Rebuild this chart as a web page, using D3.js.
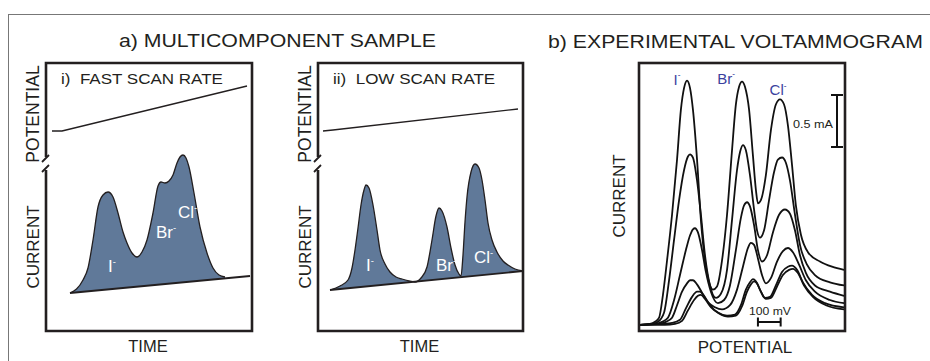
<!DOCTYPE html>
<meta charset="utf-8">
<title>Multicomponent sample voltammetry</title>
<style>
  body { margin: 0; background: #fff; }
  svg text { font-family: "Liberation Sans", Arial, sans-serif; fill: #231f20; white-space: pre; }
</style>
<body>
<script src="https://cdn.jsdelivr.net/npm/d3@7"></script>
<script>

// ---- data (a: arbitrary time / current units, b: mV / mA) ----
var fastPotential = [[6, 27], [16, 27], [201, 72]];
var fastBase = [[24, 38], [204, 55]];
var fastCurrent = [[24,38],[37,51],[42,63],[47,91],[52,124],[57,136],[62,139],[67,134],[72,118],[77,99],
  [81,88],[86,78],[91,74],[96,79],[101,91],[107,118],[112,145],[115,149],[119,148],[123,150],[127,156],
  [131,168],[134,174],[137,176],[140,173],[143,164],[148,138],[154,104],[161,78],[167,63],[173,56],[179,54]];
var fastIons = [["I", 62, 59], ["Br", 110, 93], ["Cl", 132, 113]];

var slowPotential = [[5, 27], [15, 28], [200, 49]];
var slowBase = [[12, 41], [205, 60]];
var slowCurrent = [[12,41],[22,45],[30,51],[34,63],[37,81],[40,103],[43,126],[46,141],[48,146],[51,143],
  [55,126],[59,101],[62,81],[67,67],[72,59],[78,54],[84,52],[91,50],[97,49],[103,53],[109,64],[114,91],
  [118,115],[121,123],[124,120],[129,104],[133,83],[137,66],[141,57],[143,55],[145,76],[147,109],[149,134],
  [153,159],[157,167],[161,163],[164,151],[167,131],[170,108],[174,91],[179,79],[185,70],[190,66],[197,62],[205,60]];
var slowIons = [["I", 48, 60], ["Br", 118, 60], ["Cl", 156, 68]];

// voltammograms, largest to smallest
var scan1 = [[0,0.01],[44,0.02],[66,0.04],[84,0.08],[101,0.30],[119,0.63],[141,1.07],[163,1.60],[180,2.08],[194,2.29],
  [207,2.36],[220,2.29],[233,2.08],[251,1.60],[268,1.02],[286,0.63],[304,0.42],[321,0.35],[339,0.38],[361,0.63],
  [383,1.07],[405,1.69],[422,2.13],[436,2.30],[449,2.35],[462,2.30],[480,2.08],[497,1.64],[510,1.31],[519,1.18],
  [532,1.21],[554,1.45],[576,1.88],[598,2.13],[616,2.18],[634,2.13],[651,1.93],[669,1.55],[686,1.16],[708,0.88],
  [739,0.71],[792,0.62],[845,0.57],[898,0.54]];
var scan2 = [[0,0.01],[53,0.02],[79,0.04],[106,0.13],[128,0.44],[150,0.83],[172,1.21],[194,1.50],[211,1.63],[220,1.65],
  [233,1.62],[251,1.40],[268,1.07],[286,0.68],[308,0.39],[334,0.27],[356,0.31],[383,0.54],[405,1.02],[427,1.50],
  [440,1.67],[453,1.74],[466,1.69],[484,1.45],[502,1.12],[515,0.92],[528,0.85],[546,0.92],[568,1.21],[590,1.48],
  [607,1.60],[625,1.62],[642,1.57],[660,1.40],[682,1.07],[704,0.78],[735,0.59],[770,0.49],[836,0.42],[898,0.39]];
var scan3 = [[0,0.01],[66,0.02],[97,0.04],[123,0.08],[150,0.25],[176,0.49],[202,0.73],[220,0.87],[233,0.93],[242,0.94],
  [255,0.90],[273,0.73],[290,0.52],[312,0.33],[343,0.22],[370,0.25],[396,0.39],[422,0.73],[444,1.04],[458,1.16],
  [471,1.19],[484,1.15],[502,0.97],[519,0.73],[537,0.62],[559,0.68],[585,0.90],[612,1.07],[638,1.12],[660,1.08],
  [682,0.92],[704,0.68],[730,0.51],[770,0.39],[836,0.33],[898,0.29]];
var scan4 = [[0,0.01],[79,0.02],[114,0.04],[141,0.08],[163,0.20],[185,0.33],[207,0.41],[220,0.44],[233,0.44],[251,0.40],
  [273,0.32],[299,0.23],[330,0.18],[361,0.16],[396,0.20],[427,0.35],[453,0.57],[475,0.75],[488,0.80],[502,0.78],
  [519,0.65],[537,0.49],[554,0.41],[576,0.46],[603,0.62],[629,0.72],[651,0.75],[673,0.71],[700,0.59],[730,0.44],
  [770,0.33],[836,0.25],[898,0.22]];
var scan5 = [[0,0.01],[97,0.02],[141,0.03],[176,0.06],[202,0.17],[229,0.28],[251,0.33],[264,0.33],[282,0.29],[308,0.20],
  [343,0.13],[383,0.10],[418,0.11],[444,0.20],[466,0.35],[484,0.42],[497,0.45],[510,0.43],[528,0.35],[550,0.27],
  [572,0.28],[598,0.39],[625,0.52],[651,0.57],[669,0.58],[691,0.54],[717,0.42],[757,0.30],[814,0.22],[898,0.18]];
var scan6 = [[0,0.01],[110,0.01],[154,0.02],[185,0.05],[211,0.15],[238,0.25],[255,0.29],[268,0.30],[286,0.26],[312,0.18],
  [348,0.12],[387,0.09],[422,0.10],[449,0.19],[471,0.33],[488,0.40],[502,0.43],[515,0.41],[532,0.33],[554,0.26],
  [576,0.27],[603,0.38],[629,0.49],[656,0.54],[673,0.55],[695,0.51],[722,0.39],[761,0.28],[818,0.20],[898,0.16]];
var scans = [scan1, scan2, scan3, scan4, scan5, scan6];
var voltIons = [["I", 165, 2.32], ["Br", 358, 2.33], ["Cl", 588, 2.22]];
var scaleBarCurrent = [2.22, 1.72];   // 0.5 mA
var scaleBarPotential = [519, 619];   // 100 mV

var width = 930, height = 361;
var fillColor = "#607999", ionBlue = "#3b3f9e";

var svg = d3.select("body").append("svg")
    .attr("width", width)
    .attr("height", height);

// outer frame (cropped on the right and bottom)
svg.append("rect")
    .attr("x", 8.5).attr("y", 14.5)
    .attr("width", 940).attr("height", 360)
    .attr("fill", "none").attr("stroke", "#777").attr("stroke-width", 1);

// text that is a bit wider than tall, like the original artwork
function wideText(x, y, str, size, anchor) {
  return svg.append("text")
      .attr("transform", "translate(" + x + "," + y + ") scale(1.15,1)")
      .attr("font-size", size)
      .attr("text-anchor", anchor || "start")
      .text(str);
}

function ionLabel(x, y, name, size, color) {
  var t = svg.append("text")
      .attr("x", x).attr("y", y)
      .attr("font-size", size)
      .style("fill", color);
  t.append("tspan").text(name);
  t.append("tspan").attr("font-size", size * 0.55).attr("dy", -size * 0.42).text("-");
}

function vertLabel(x, y, str, size) {
  svg.append("text")
      .attr("transform", "translate(" + x + "," + y + ") rotate(-90)")
      .attr("font-size", size)
      .attr("text-anchor", "middle")
      .text(str);
}

wideText(119, 47, "a) MULTICOMPONENT SAMPLE", 18.5);
wideText(548, 48, "b) EXPERIMENTAL VOLTAMMOGRAM", 18.5);

// ---- panels a(i) and a(ii) ----
function drawPanel(left, right, label, potential, base, current, ions) {
  var x = d3.scaleLinear().domain([0, right - left]).range([left, right]);
  var yCur = d3.scaleLinear().domain([0, 160]).range([331, 171]);
  var yPot = d3.scaleLinear().domain([0, 95]).range([158, 63]);
  var baseAt = d3.scaleLinear().domain([base[0][0], base[1][0]]).range([base[0][1], base[1][1]]);

  // frame: top, right, bottom, and left with a break between potential and current
  var frame = svg.append("g")
      .attr("fill", "none").attr("stroke", "#231f20").attr("stroke-width", 2.6);
  frame.append("path")
      .attr("d", "M" + left + ",157V63H" + right + "V331H" + left + "V170");
  frame.append("path").attr("stroke-width", 1.8)
      .attr("d", "M" + (left - 4) + ",162L" + (left + 3) + ",155M" + (left - 4) + ",172L" + (left + 3) + ",165");

  wideText(left + 15, 84, label, 14.8);

  svg.append("path")
      .datum(potential)
      .attr("fill", "none").attr("stroke", "#231f20").attr("stroke-width", 1.4)
      .attr("d", d3.line().x(d => x(d[0])).y(d => yPot(d[1])));

  svg.append("path")
      .datum(current)
      .attr("fill", fillColor)
      .attr("d", d3.area()
        .x(d => x(d[0]))
        .y0(d => yCur(baseAt(d[0])))
        .y1(d => yCur(d[1]))
        .curve(d3.curveMonotoneX));

  svg.append("path")
      .datum(current)
      .attr("fill", "none").attr("stroke", "#231f20").attr("stroke-width", 1.3)
      .attr("d", d3.line().x(d => x(d[0])).y(d => yCur(d[1])).curve(d3.curveMonotoneX));

  svg.append("path")
      .datum(base)
      .attr("fill", "none").attr("stroke", "#231f20").attr("stroke-width", 1.8)
      .attr("d", d3.line().x(d => x(d[0])).y(d => yCur(d[1])));

  ions.forEach(function(d) { ionLabel(x(d[1]), yCur(d[2]), d[0], 17, "#fff"); });

  vertLabel(left - 7, 114, "POTENTIAL", 17.5);
  vertLabel(left - 7, 247, "CURRENT", 17);
  svg.append("text")
      .attr("x", (left + right) / 2 - 1).attr("y", 352)
      .attr("font-size", 16.5).attr("text-anchor", "middle")
      .text("TIME");
}

drawPanel(46, 252, "i)  FAST SCAN RATE", fastPotential, fastBase, fastCurrent, fastIons);
drawPanel(318, 523, "ii)  LOW SCAN RATE", slowPotential, slowBase, slowCurrent, slowIons);

// ---- panel b ----
var xV = d3.scaleLinear().domain([0, 900]).range([640, 844.5]);
var yI = d3.scaleLinear().domain([0, 2.5]).range([326, 66]);

svg.append("rect")
    .attr("x", 639).attr("y", 63).attr("width", 206).attr("height", 268)
    .attr("fill", "none").attr("stroke", "#231f20").attr("stroke-width", 2.6);

var scanLine = d3.line().x(d => xV(d[0])).y(d => yI(d[1])).curve(d3.curveMonotoneX);
svg.append("g")
  .selectAll("path")
  .data(scans)
  .enter().append("path")
    .attr("fill", "none").attr("stroke", "#111").attr("stroke-width", 1.8)
    .attr("stroke-linejoin", "round")
    .attr("d", scanLine);

voltIons.forEach(function(d) { ionLabel(xV(d[1]) - 4, yI(d[2]), d[0], 15, ionBlue); });

// 0.5 mA scale bar
var barX = 837;
svg.append("path")
    .attr("fill", "none").attr("stroke", "#111").attr("stroke-width", 2)
    .attr("d", "M" + barX + "," + yI(scaleBarCurrent[0]) + "V" + yI(scaleBarCurrent[1]) +
      "M" + (barX - 6) + "," + yI(scaleBarCurrent[0]) + "H" + (barX + 6) +
      "M" + (barX - 6) + "," + yI(scaleBarCurrent[1]) + "H" + (barX + 6));
wideText(833, 128, "0.5 mA", 11, "end");

// 100 mV scale bar
var barY = 322;
svg.append("path")
    .attr("fill", "none").attr("stroke", "#111").attr("stroke-width", 2)
    .attr("d", "M" + xV(scaleBarPotential[0]) + "," + barY + "H" + xV(scaleBarPotential[1]) +
      "M" + xV(scaleBarPotential[0]) + "," + (barY - 4.5) + "V" + (barY + 4.5) +
      "M" + xV(scaleBarPotential[1]) + "," + (barY - 4.5) + "V" + (barY + 4.5));
wideText(770, 315, "100 mV", 10.6, "middle");

vertLabel(625, 196, "CURRENT", 17);
svg.append("text")
    .attr("x", 745).attr("y", 353)
    .attr("font-size", 17).attr("text-anchor", "middle")
    .text("POTENTIAL");

</script>
</body>
